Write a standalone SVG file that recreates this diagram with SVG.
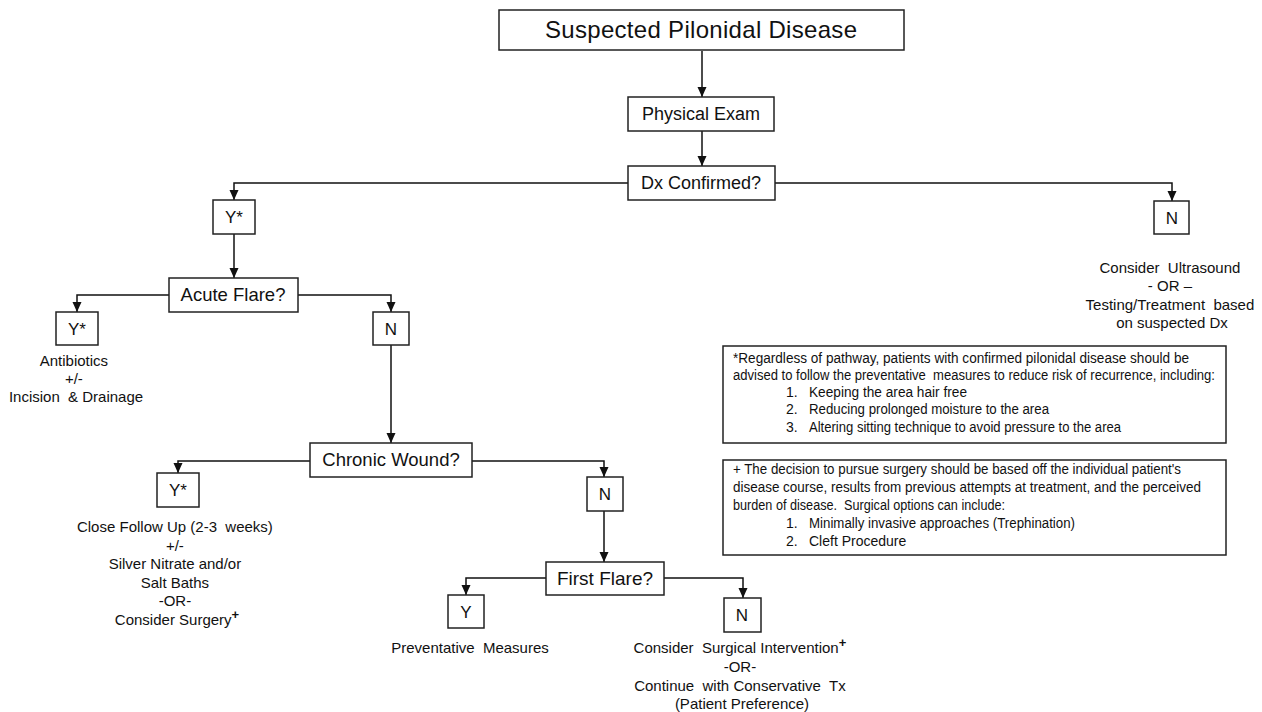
<svg xmlns="http://www.w3.org/2000/svg" width="1262" height="712" viewBox="0 0 1262 712">
<defs>
<marker id="arr" markerUnits="userSpaceOnUse" markerWidth="10" markerHeight="10" viewBox="0 0 10 10" refX="10" refY="5" orient="auto">
<path d="M0,0.5 L10,5 L0,9.5 z" fill="#111"/>
</marker>
<style>
.box{fill:#fff;stroke:#222;stroke-width:1.5}
.t{font-family:"Liberation Sans",Arial,sans-serif;fill:#111;text-anchor:middle}
.b{font-size:15px}
.n{font-family:"Liberation Sans",Arial,sans-serif;fill:#111;font-size:14px}
.c{fill:none;stroke:#111;stroke-width:1.5}
</style>
</defs>
<rect width="1262" height="712" fill="#fff"/>
<g id="connectors">
<path class="c" d="M702,51 V97" marker-end="url(#arr)"/>
<path class="c" d="M702,131 V166" marker-end="url(#arr)"/>
<path class="c" d="M628,183 H234 V200" marker-end="url(#arr)"/>
<path class="c" d="M775,183 H1172 V201" marker-end="url(#arr)"/>
<path class="c" d="M234,234 V278" marker-end="url(#arr)"/>
<path class="c" d="M169,295 H77 V312" marker-end="url(#arr)"/>
<path class="c" d="M298,295 H391 V312" marker-end="url(#arr)"/>
<path class="c" d="M391,345 V443" marker-end="url(#arr)"/>
<path class="c" d="M310,461 H178 V473" marker-end="url(#arr)"/>
<path class="c" d="M472,461 H604 V477" marker-end="url(#arr)"/>
<path class="c" d="M604,511 V562" marker-end="url(#arr)"/>
<path class="c" d="M546,578 H466 V595" marker-end="url(#arr)"/>
<path class="c" d="M664,578 H743 V598" marker-end="url(#arr)"/>
</g>
<g id="title">
<rect class="box" x="499" y="10" width="405" height="40"/>
<text class="t" x="701" y="38" font-size="24" textLength="312" lengthAdjust="spacing">Suspected Pilonidal Disease</text>
</g>
<g id="physical-exam">
<rect class="box" x="628" y="97" width="146" height="34"/>
<text class="t" x="701" y="120" font-size="18">Physical Exam</text>
</g>
<g id="dx-confirmed">
<rect class="box" x="628" y="166" width="147" height="34"/>
<text class="t" x="701" y="189" font-size="18">Dx Confirmed?</text>
</g>
<g id="dx-yes">
<rect class="box" x="213" y="200" width="42" height="34"/>
<text class="t" x="234" y="223" font-size="17">Y*</text>
</g>
<g id="dx-no">
<rect class="box" x="1154" y="201" width="35" height="33"/>
<text class="t" x="1172" y="224" font-size="17">N</text>
<text class="t b">
<tspan x="1172" y="273">Consider&#160; Ultrasound</tspan>
<tspan x="1172" y="291">- OR –</tspan>
<tspan x="1172" y="310">Testing/Treatment&#160; based</tspan>
<tspan x="1172" y="328">on suspected Dx</tspan>
</text>
</g>
<g id="acute-flare">
<rect class="box" x="169" y="278" width="129" height="34"/>
<text class="t" x="233" y="301" font-size="18.5">Acute Flare?</text>
</g>
<g id="acute-yes">
<rect class="box" x="56" y="312" width="42" height="33"/>
<text class="t" x="77" y="335" font-size="17">Y*</text>
<text class="t b">
<tspan x="76" y="366">Antibiotics</tspan>
<tspan x="76" y="384">+/-</tspan>
<tspan x="76" y="402">Incision&#160; &amp; Drainage</tspan>
</text>
</g>
<g id="acute-no">
<rect class="box" x="373" y="312" width="36" height="33"/>
<text class="t" x="391" y="335" font-size="17">N</text>
</g>
<g id="chronic-wound">
<rect class="box" x="310" y="443" width="162" height="34"/>
<text class="t" x="391" y="466" font-size="18.5">Chronic Wound?</text>
</g>
<g id="chronic-yes">
<rect class="box" x="157" y="473" width="42" height="34"/>
<text class="t" x="178" y="496" font-size="17">Y*</text>
<text class="t b">
<tspan x="177" y="532">Close Follow Up (2-3&#160; weeks)</tspan>
<tspan x="177" y="551">+/-</tspan>
<tspan x="177" y="569">Silver Nitrate and/or</tspan>
<tspan x="177" y="588">Salt Baths</tspan>
<tspan x="177" y="606">-OR-</tspan>
<tspan x="177" y="625">Consider Surgery<tspan font-size="13" font-weight="bold" dy="-6">+</tspan></tspan>
</text>
</g>
<g id="chronic-no">
<rect class="box" x="587" y="477" width="36" height="34"/>
<text class="t" x="605" y="500" font-size="17">N</text>
</g>
<g id="first-flare">
<rect class="box" x="546" y="562" width="118" height="33"/>
<text class="t" x="605" y="585" font-size="19">First Flare?</text>
</g>
<g id="first-yes">
<rect class="box" x="448" y="595" width="36" height="33"/>
<text class="t" x="466" y="618" font-size="17">Y</text>
<text class="t b" x="470" y="653">Preventative&#160; Measures</text>
</g>
<g id="first-no">
<rect class="box" x="724" y="598" width="37" height="34"/>
<text class="t" x="742" y="621" font-size="17">N</text>
<text class="t b">
<tspan x="742" y="653">Consider&#160; Surgical Intervention<tspan font-size="13" font-weight="bold" dy="-6">+</tspan></tspan>
<tspan x="742" y="672">-OR-</tspan>
<tspan x="742" y="691">Continue&#160; with Conservative&#160; Tx</tspan>
<tspan x="742" y="709">(Patient Preference)</tspan>
</text>
</g>
<g id="note-preventative">
<rect class="box" x="723" y="346" width="503" height="97"/>
<text class="n">
<tspan x="733" y="363" textLength="456" lengthAdjust="spacingAndGlyphs">*Regardless of pathway, patients with confirmed pilonidal disease should be</tspan>
<tspan x="733" y="380" textLength="482" lengthAdjust="spacingAndGlyphs">advised to follow the preventative&#160; measures to reduce risk of recurrence, including:</tspan>
<tspan x="786" y="397">1.</tspan><tspan x="809" y="397" textLength="158" lengthAdjust="spacingAndGlyphs">Keeping the area hair free</tspan>
<tspan x="786" y="414">2.</tspan><tspan x="809" y="414" textLength="240" lengthAdjust="spacingAndGlyphs">Reducing prolonged moisture to the area</tspan>
<tspan x="786" y="432">3.</tspan><tspan x="809" y="432" textLength="312" lengthAdjust="spacingAndGlyphs">Altering sitting technique to avoid pressure to the area</tspan>
</text>
</g>
<g id="note-surgery">
<rect class="box" x="723" y="460" width="503" height="95"/>
<text class="n">
<tspan x="733" y="474" textLength="448" lengthAdjust="spacingAndGlyphs">+ The decision to pursue surgery should be based off the individual patient's</tspan>
<tspan x="733" y="492" textLength="468" lengthAdjust="spacingAndGlyphs">disease course, results from previous attempts at treatment, and the perceived</tspan>
<tspan x="733" y="510" textLength="272" lengthAdjust="spacingAndGlyphs">burden of disease.&#160; Surgical options can include:</tspan>
<tspan x="786" y="528">1.</tspan><tspan x="809" y="528" textLength="266" lengthAdjust="spacingAndGlyphs">Minimally invasive approaches (Trephination)</tspan>
<tspan x="786" y="546">2.</tspan><tspan x="809" y="546">Cleft Procedure</tspan>
</text>
</g>
</svg>
